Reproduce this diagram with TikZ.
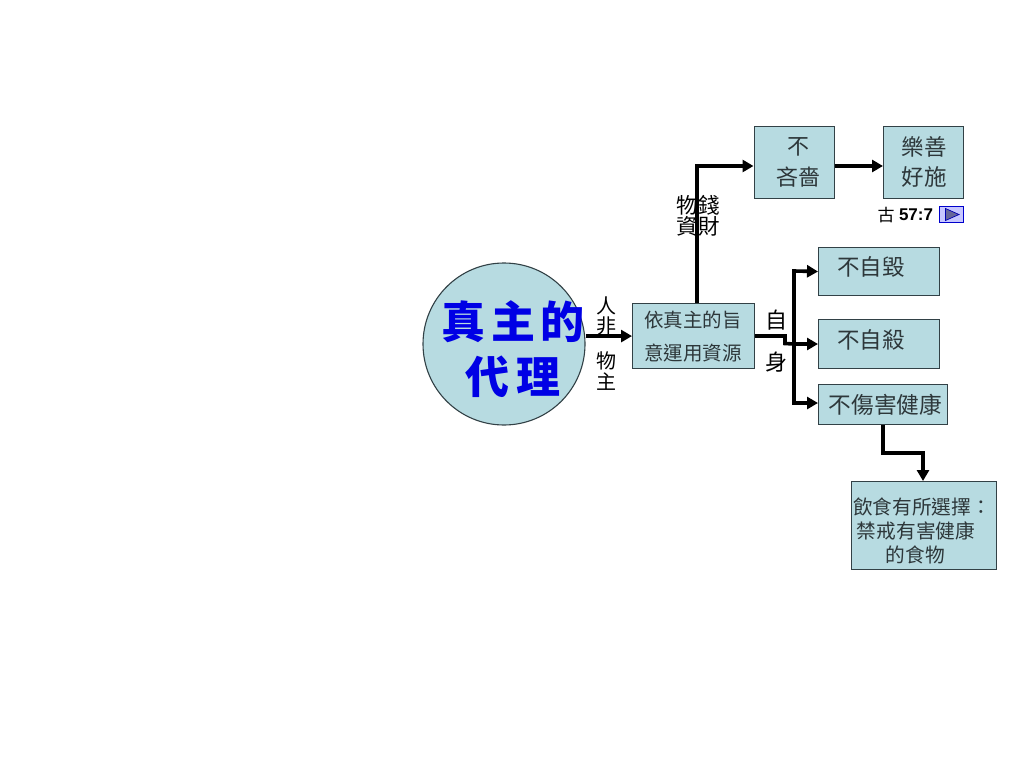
\documentclass[tikz,border=0pt]{standalone}
\usepackage{fontspec}
\usetikzlibrary{arrows.meta}
\newfontfamily\cjk{Noto Sans CJK TC}
\newfontfamily\lat{Liberation Sans}
\definecolor{boxfill}{RGB}{183,219,225}
\definecolor{boxline}{RGB}{50,65,70}
\definecolor{txtgrey}{RGB}{45,55,58}
\tikzset{
  x=1pt,y=-1pt,
  box/.style={draw=boxline,fill=boxfill,line width=1.1pt,inner sep=0pt,anchor=north west},
  lab/.style={inner sep=0pt,text=txtgrey,align=center},
  blk/.style={inner sep=0pt,text=black,align=center},
  conn/.style={draw=black,line width=3.6pt,-{Triangle[length=11pt,width=12pt]},rounded corners=0pt}
}
\newcommand{\fsz}[1]{\fontsize{#1}{#1}\selectfont}
\begin{document}
\begin{tikzpicture}
\useasboundingbox (0,0) rectangle (1024,768);
\fill[white] (0,0) rectangle (1024,768);
\cjk
% nodes
\node[draw=boxline,fill=boxfill,line width=1.1pt,circle,minimum size=162pt,inner sep=0pt] (c) at (504,344) {};
\node[box,minimum width=122pt,minimum height=65pt] (zhi) at (632,303) {};
\node[box,minimum width=80pt,minimum height=72pt] (lin) at (753.5,126) {};
\node[box,minimum width=80pt,minimum height=72pt] (le) at (883,126) {};
\node[box,minimum width=121pt,minimum height=48pt] (hui) at (818,247) {};
\node[box,minimum width=121pt,minimum height=49pt] (sha) at (818,319) {};
\node[box,minimum width=129pt,minimum height=40pt] (shang) at (818,384) {};
\node[box,minimum width=145pt,minimum height=88pt] (shi) at (851,481) {};
% connectors
\coordinate (cj) at (794,344);
\draw[conn] (c.east |- zhi.west) -- (zhi.west);
\draw[conn] (697,303) coordinate (zt) -- (697,166) -- (lin.west |- 0,166);
\draw[conn] (lin.east |- 0,166) -- (le.west |- 0,166);
\draw[line width=3.6pt,miter limit=10] (zhi.east |- 0,336) -- (785,336) -- (785,343.5) -- (cj);
\draw[conn] (cj) -- (sha.west |- cj);
\draw[conn] (794,344) -- (794,271) -- (hui.west);
\draw[conn] (794,344) -- (794,403) -- (shang.west |- 0,403);
\draw[conn] (shang.south -| 883,0) -- (883,453) -- (923,453) -- (shi.north -| 923,0);
% texts
\node[inner sep=0pt,text=blue!90!black,align=center,font=\fsz{44}\bfseries] (title) at (513,349)
  {\makebox[143pt]{真\hfill 主\hfill 的}\\[11pt]\makebox[95pt]{代\hfill 理}};
\node[lab,font=\fsz{19.5}] (t1) at (693,320) {依真主的旨};
\node[lab,font=\fsz{19.5}] (t2) at (693,353) {意運用資源};
\node[lab,font=\fsz{22}] (t3) at (798,147) {不};
\node[lab,font=\fsz{22}] (t4) at (798,177) {吝嗇};
\node[lab,font=\fsz{22.5}] (t5) at (924,147) {樂善};
\node[lab,font=\fsz{22.5}] (t6) at (924,177) {好施};
\node[lab,font=\fsz{22.5}] (t7) at (871,267) {不自毀};
\node[lab,font=\fsz{22.5}] (t8) at (871,340) {不自殺};
\node[lab,font=\fsz{22.7}] (t9) at (885.5,405) {不傷害健康};
\node[lab,font=\fsz{19.7}] (t10) at (922,507) {飲食有所選擇：};
\node[lab,font=\fsz{19.7}] (t11) at (916,531) {禁戒有害健康};
\node[lab,font=\fsz{19.7}] (t12) at (915.5,555) {的食物};
\node[blk,font=\fsz{21.5}] (t13) at (698,205) {物錢};
\node[blk,font=\fsz{21.5}] (t14) at (698,226) {資財};
\node[blk,font=\fsz{20}] (t15) at (606,306) {人};
\node[blk,font=\fsz{20}] (t16) at (606,326) {非};
\node[blk,font=\fsz{20}] (t17) at (606,361) {物};
\node[blk,font=\fsz{20}] (t18) at (606,382) {主};
\node[blk,font=\fsz{22}] (t19) at (776,320) {自};
\node[blk,font=\fsz{22}] (t20) at (776,362) {身};
\node[blk,font=\fsz{17}] (t21) at (886,215) {古};
\node[blk,font=\fsz{17}\lat\bfseries] (t22) at (916,214.5) {57:7};
% button
\draw[draw=blue!80!black,fill=blue!22,line width=0.9pt] (939.5,206.5) rectangle (963.5,222);
\draw[draw=blue!70!black,fill=gray!80!blue,line width=0.7pt] (945.5,208.5) -- (959,214.5) -- (945.5,220.5) -- cycle;
\end{tikzpicture}
\end{document}
